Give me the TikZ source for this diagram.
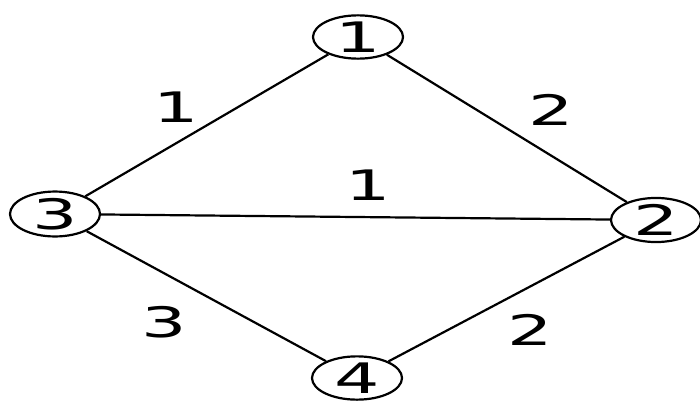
\documentclass[tikz,border=0pt]{standalone}
\usepackage{fontspec}
\setmainfont{DejaVu Sans}
\usetikzlibrary{shapes.geometric}
\newcommand{\dig}[1]{\scalebox{1.7}[1]{\fontsize{42}{42}\selectfont #1}}
\tikzset{
  vert/.style={draw, ellipse, line width=2.2pt, minimum width=90pt, minimum height=43pt, inner sep=0pt},
  edge/.style={line width=2.2pt},
  wlab/.style={inner sep=0pt}
}
\begin{document}
\begin{tikzpicture}[x=1pt,y=-1pt]
\useasboundingbox (0,0) rectangle (700,404);
\node[vert] (n1) at (358,37) {\dig{1}};
\node[vert] (n3) at (55,214) {\dig{3}};
\node[vert] (n2) at (656,220) {\dig{2}};
\node[vert] (n4) at (357,378) {\dig{4}};
\draw[edge] (n1) -- (n3);
\draw[edge] (n1) -- (n2);
\draw[edge] (n3) -- (n2);
\draw[edge] (n3) -- (n4);
\draw[edge] (n4) -- (n2);
\node[wlab] (l13) at (176,107) {\dig{1}};
\node[wlab] (l12) at (551,110) {\dig{2}};
\node[wlab] (l32) at (368,185) {\dig{1}};
\node[wlab] (l34) at (164,322) {\dig{3}};
\node[wlab] (l42) at (530,330) {\dig{2}};
\end{tikzpicture}
\end{document}
